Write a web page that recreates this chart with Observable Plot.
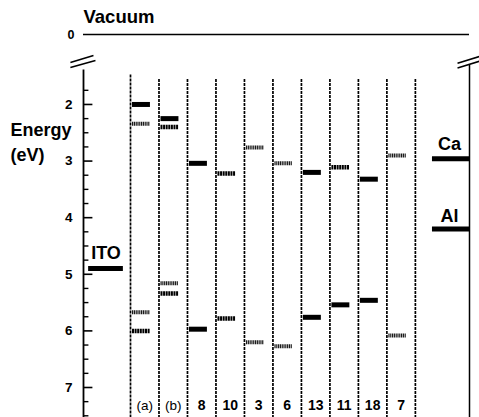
<!DOCTYPE html>
<html>
<head>
<meta charset="utf-8">
<script src="https://cdn.jsdelivr.net/npm/d3@7"></script>
<script src="https://cdn.jsdelivr.net/npm/@observablehq/plot@0.6"></script>
<style>
  html, body { margin: 0; padding: 0; background: #fff; }
  #chart svg { display: block; }
</style>
</head>
<body>
<div id="chart"></div>
<script>
// ---- data ----
const columns = ["(a)", "(b)", "8", "10", "3", "6", "13", "11", "18", "7"];
const lumo      = [2.00, 2.25, 3.04, 3.22, 2.76, 3.04, 3.20, 3.11, 3.32, 2.90];
const lumoStyle = ["solid", "solid", "solid", "dark", "light", "light", "solid", "dark", "solid", "light"];
const homo      = [6.00, 5.34, 5.97, 5.78, 6.20, 6.27, 5.76, 5.54, 5.46, 6.08];
const homoStyle = ["dark", "dark", "solid", "dark", "light", "light", "solid", "solid", "solid", "light"];
// second levels shown for (a) and (b)
const extraCol    = [0, 0, 1, 1];
const extraLevel  = [2.34, 5.67, 2.40, 5.16];
const extraStyle  = ["light", "light", "dark", "light"];

const electrodes   = ["ITO", "Ca", "Al"];
const workFunction = [4.90, 2.96, 4.20];

const majorTicks = [2, 3, 4, 5, 6, 7];
const minorTicks = d3.range(1.75, 7.51, 0.25).filter(v => Math.abs(v - Math.round(v)) > 0.01);
const vacuumLevel = 0;

// ---- layout helpers (scale units: one column = 1) ----
const axisLeft = -1.65, axisRight = 11.9;
const electrodeSpan = {ITO: [-1.47, -0.25], Ca: [10.6, 11.9], Al: [10.6, 11.9]};
const electrodeLabel = {ITO: [-0.86, 4.62], Ca: [11.2, 2.71], Al: [11.2, 3.98]};

const levels = [];
columns.forEach((c, i) => {
  levels.push({col: i, e: lumo[i], style: lumoStyle[i]});
  levels.push({col: i, e: homo[i], style: homoStyle[i]});
});
extraCol.forEach((c, k) => levels.push({col: c, e: extraLevel[k], style: extraStyle[k]}));

const breakMarks = [
  {x1: -2.11, y1: 1.09, x2: -1.30, y2: 0.82},
  {x1: -2.11, y1: 1.28, x2: -1.23, y2: 1.01},
  {x1: 11.48, y1: 1.12, x2: 12.3, y2: 0.84},
  {x1: 11.48, y1: 1.30, x2: 12.3, y2: 1.02}
];

const font = "Liberation Sans, Arial, Helvetica, sans-serif";

const barMark = (style) => {
  const data = levels.filter(d => d.style === style);
  const opts = {
    y: "e",
    x1: d => d.col + 0.07,
    x2: d => d.col + 0.70
  };
  if (style === "solid") return Plot.ruleY(data, {...opts, stroke: "#000", strokeWidth: 5});
  if (style === "dark") return Plot.ruleY(data, {...opts, stroke: "#000", strokeWidth: 4.5, strokeDasharray: "2,0.6"});
  return Plot.ruleY(data, {...opts, stroke: "#1a1a1a", strokeWidth: 4, strokeDasharray: "1.2,0.6"});
};

const chart = Plot.plot({
  width: 479,
  height: 417,
  style: {fontFamily: font, background: "#fff", overflow: "visible"},
  x: {type: "linear", domain: [axisLeft, axisRight], range: [83, 469], axis: null},
  y: {type: "linear", domain: [0, 1.4, 7.53], range: [34, 70, 417], axis: null},
  marks: [
    // vacuum level
    Plot.ruleY([vacuumLevel], {x1: axisLeft, x2: axisRight, stroke: "#000", strokeWidth: 1.6}),
    Plot.text(["Vacuum"], {x: axisLeft, y: vacuumLevel, dy: -17, text: d => d, textAnchor: "start", fontSize: 18.5, fontWeight: "bold"}),
    Plot.text(["0"], {x: axisLeft, y: vacuumLevel, dx: -9, text: d => d, textAnchor: "end", fontSize: 12.5, fontWeight: "bold"}),
    // axes lines
    Plot.ruleX([axisLeft], {y1: 1.38, y2: 7.53, stroke: "#000", strokeWidth: 1.8}),
    Plot.ruleX([axisRight], {y1: 1.2, y2: 7.53, stroke: "#000", strokeWidth: 1.5}),
    // ticks
    Plot.ruleY(majorTicks, {y: d => d, x1: axisLeft, x2: axisLeft + 0.33, stroke: "#000", strokeWidth: 1.6}),
    Plot.ruleY(minorTicks, {y: d => d, x1: axisLeft, x2: axisLeft + 0.19, stroke: "#000", strokeWidth: 1.4}),
    Plot.text(majorTicks, {x: axisLeft, y: d => d, dx: -11, text: d => String(d), textAnchor: "end", fontSize: 13.5, fontWeight: "bold"}),
    // axis title
    Plot.text(["Energy"], {x: axisLeft, y: 2.46, dx: -73, text: d => d, textAnchor: "start", fontSize: 18, fontWeight: "bold"}),
    Plot.text(["(eV)"], {x: axisLeft, y: 2.90, dx: -73, text: d => d, textAnchor: "start", fontSize: 18, fontWeight: "bold"}),
    // break marks
    Plot.link(breakMarks, {x1: "x1", y1: "y1", x2: "x2", y2: "y2", stroke: "#000", strokeWidth: 1.6}),
    // column separators
    Plot.ruleX(d3.range(0, columns.length + 1), {x: d => d, y1: d => d === 0 ? 1.48 : 1.56, y2: 7.53, stroke: "#000", strokeWidth: 1.7, strokeDasharray: "3,1"}),
    // energy levels
    barMark("light"),
    barMark("dark"),
    barMark("solid"),
    // electrodes
    Plot.ruleY(electrodes, {y: (d, i) => workFunction[i], x1: d => electrodeSpan[d][0], x2: d => electrodeSpan[d][1], stroke: "#000", strokeWidth: 5}),
    Plot.text(electrodes, {x: d => electrodeLabel[d][0], y: d => electrodeLabel[d][1], text: d => d, fontSize: 18, fontWeight: "bold"}),
    // column labels
    Plot.text(columns.map((d, i) => ({d, i})).filter(o => o.d.startsWith("(")), {x: o => o.i + 0.5, y: 7.32, text: o => o.d, fontSize: 13.5}),
    Plot.text(columns.map((d, i) => ({d, i})).filter(o => !o.d.startsWith("(")), {x: o => o.i + 0.5, y: 7.32, text: o => o.d, fontSize: 14, fontWeight: "bold"})
  ]
});

document.getElementById("chart").appendChild(chart);
</script>
</body>
</html>
